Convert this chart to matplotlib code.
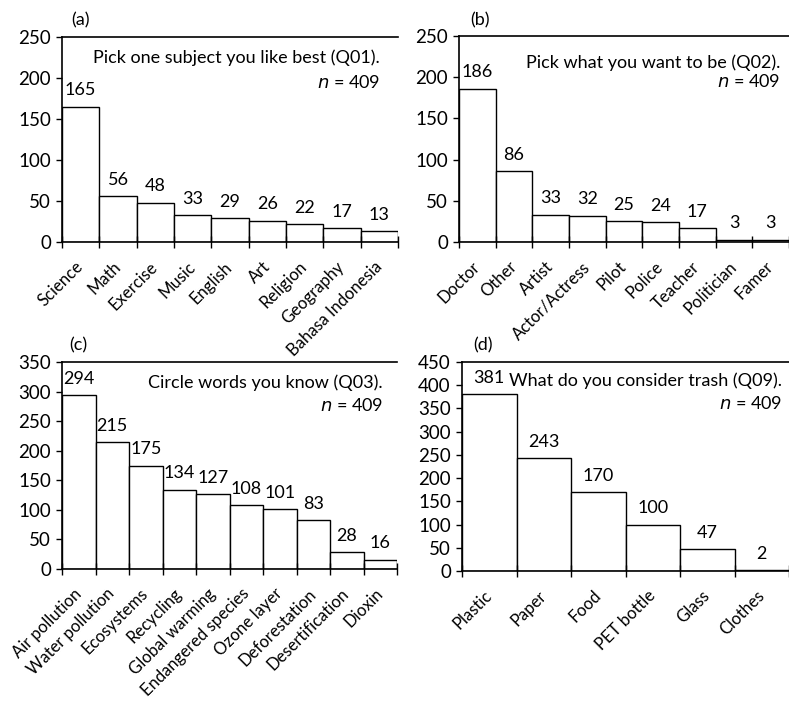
import numpy as np
import matplotlib
matplotlib.use("Agg")
import matplotlib.pyplot as plt

plt.rcParams['font.family'] = ['Lato', 'DejaVu Sans']
plt.rcParams['font.size'] = 12

# --- data ---
q01_labels = ["Science", "Math", "Exercise", "Music", "English", "Art",
              "Religion", "Geography", "Bahasa Indonesia"]
q01_values = [165, 56, 48, 33, 29, 26, 22, 17, 13]

q02_labels = ["Doctor", "Other", "Artist", "Actor/Actress", "Pilot", "Police",
              "Teacher", "Politician", "Famer"]
q02_values = [186, 86, 33, 32, 25, 24, 17, 3, 3]

q03_labels = ["Air pollution", "Water pollution", "Ecosystems", "Recycling",
              "Global warming", "Endangered species", "Ozone layer",
              "Deforestation", "Desertification", "Dioxin"]
q03_values = [294, 215, 175, 134, 127, 108, 101, 83, 28, 16]

q09_labels = ["Plastic", "Paper", "Food", "PET bottle", "Glass", "Clothes"]
q09_values = [381, 243, 170, 100, 47, 2]

titles = ["Pick one subject you like best (Q01).",
          "Pick what you want to be (Q02).",
          "Circle words you know (Q03).",
          "What do you consider trash (Q09)."]
panel_tags = ["(a)", "(b)", "(c)", "(d)"]
y_max = [250, 250, 350, 450]

W, H = 789, 703
fig = plt.figure(figsize=(W / 100, H / 100), dpi=100)

def px_axes(l, t, r, b):
    return fig.add_axes([l / W, 1 - b / H, (r - l) / W, (b - t) / H])

boxes = [(62, 37, 398, 242), (459, 36, 789, 242),
         (62, 362, 397, 569), (462, 362, 789, 571)]
text_pos = [(0.947, 0.90, 0.78), (0.973, 0.87, 0.78),
            (0.958, 0.90, 0.79), (0.98, 0.91, 0.80)]
tag_pos = [(81, 20), (480, 20), (78, 345), (483, 345)]

data = [(q01_labels, q01_values), (q02_labels, q02_values),
        (q03_labels, q03_values), (q09_labels, q09_values)]

for i, (labels, values) in enumerate(data):
    ax = px_axes(*boxes[i])
    n = len(values)
    x = np.arange(n)
    bars = ax.bar(x, values, width=1.0, color="white", edgecolor="black",
                  linewidth=1.0)
    for b, v in zip(bars, values):
        ax.annotate(str(v), (b.get_x() + b.get_width() / 2, v),
                    xytext=(0, 6), textcoords="offset points",
                    ha="center", va="bottom", fontsize=13)
    ax.set_xlim(-0.5, n - 0.5)
    ax.set_ylim(0, y_max[i])
    ax.set_yticks(np.arange(0, y_max[i] + 1, 50))
    # ticks at bar boundaries, labels at bar centres
    ax.set_xticks(np.arange(n + 1) - 0.5)
    ax.set_xticklabels([])
    ax.set_xticks(x, minor=True)
    ax.set_xticklabels(labels, minor=True, rotation=45, ha="right",
                       rotation_mode="anchor", va="center")
    ax.tick_params(axis="x", which="major", direction="inout", length=8,
                   width=1)
    ax.tick_params(axis="x", which="minor", length=0, pad=16, labelsize=12)
    ax.tick_params(axis="y", direction="out", length=4, width=1,
                   labelsize=13.5, pad=4)
    ax.spines["right"].set_visible(False)
    for s in ["left", "bottom", "top"]:
        ax.spines[s].set_linewidth(1.2)
    tx, ty1, ty2 = text_pos[i]
    ax.text(tx, ty1, titles[i], transform=ax.transAxes, ha="right",
            va="center", fontsize=13)
    ax.text(tx, ty2, "$\\it{n}$ = 409", transform=ax.transAxes, ha="right",
            va="center", fontsize=13)
    fig.text(tag_pos[i][0] / W, 1 - tag_pos[i][1] / H, panel_tags[i],
             ha="center", va="center", fontsize=13)

fig.savefig("out.png", dpi=100)
